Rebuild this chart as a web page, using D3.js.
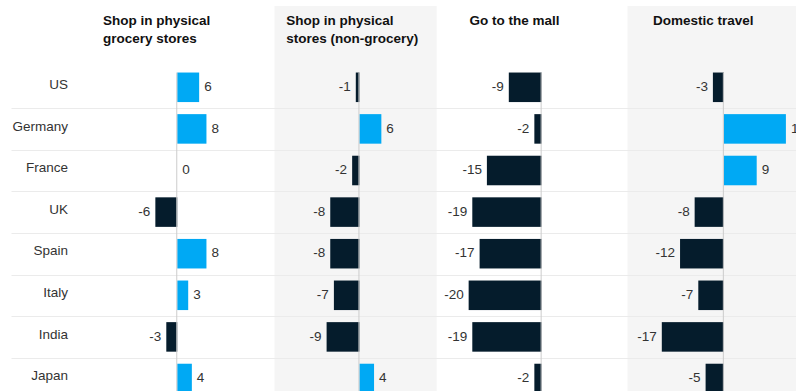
<!DOCTYPE html>
<html>
<head>
<meta charset="utf-8">
<script src="https://cdn.jsdelivr.net/npm/d3@7"></script>
<style>
  body { margin: 0; background: #fff; }
  svg { display: block; font-family: "Liberation Sans", Arial, sans-serif; }
  .title { font-weight: bold; font-size: 13.5px; fill: #111; }
  .country { font-size: 13.5px; fill: #333; }
  .value { font-size: 13.5px; fill: #333; }
</style>
</head>
<body>
<div id="chart"></div>
<script>
  const countries = ['US', 'Germany', 'France', 'UK', 'Spain', 'Italy', 'India', 'Japan'];
  const metrics = ['grocery', 'nonGrocery', 'mall', 'travel'];
  const titles = [
    ['Shop in physical', 'grocery stores'],
    ['Shop in physical', 'stores (non-grocery)'],
    ['Go to the mall'],
    ['Domestic travel']
  ];

  const grocery = [6, 8, 0, -6, 8, 3, -3, 4];
  const nonGrocery = [-1, 6, -2, -8, -8, -7, -9, 4];
  const mall = [-9, -2, -15, -19, -17, -20, -19, -2];
  const travel = [-3, 17, 9, -8, -12, -7, -17, -5];

  const series = [grocery, nonGrocery, mall, travel];

  const width = 796;
  const height = 391;

  const svg = d3.select('#chart').append('svg')
    .attr('width', width)
    .attr('height', height);

  // shaded columns (2nd and 4th)
  const shaded = [[274.5, 436.7], [627.5, 796]];
  svg.selectAll('.shade')
    .data(shaded)
    .enter()
    .append('rect')
    .attr('class', 'shade')
    .attr('x', d => d[0])
    .attr('y', 6)
    .attr('width', d => d[1] - d[0])
    .attr('height', height - 6)
    .attr('fill', '#f5f5f5');

  const panel = d3.scaleBand()
    .domain(metrics)
    .range([86, 86 + 4 * 182.2]);

  // titles sit on a slightly wider rhythm than the bars
  const titleX = d3.scaleBand()
    .domain(metrics)
    .range([103, 103 + 4 * 183.3]);

  const xScale = d3.scaleLinear()
    .domain([-25, 25])
    .range([0, 182.5]);

  const yScale = d3.scaleBand()
    .domain(countries)
    .range([66.5, 399.3])
    .paddingInner(0.29)
    .paddingOuter(0.145);

  const gap = (yScale.step() - yScale.bandwidth()) / 2;

  // row separators
  svg.selectAll('.sep')
    .data(countries.slice(1))
    .enter()
    .append('line')
    .attr('class', 'sep')
    .attr('x1', 11.5)
    .attr('x2', width)
    .attr('y1', d => Math.round(yScale(d) - gap) + 0.5)
    .attr('y2', d => Math.round(yScale(d) - gap) + 0.5)
    .attr('stroke', '#ebebeb')
    .attr('stroke-width', 1);

  // country labels
  svg.selectAll('.country')
    .data(countries)
    .enter()
    .append('text')
    .attr('class', 'country')
    .attr('x', 68)
    .attr('y', d => yScale(d) + yScale.bandwidth() / 2 - 3)
    .attr('dy', '0.35em')
    .attr('text-anchor', 'end')
    .text(d => d);

  metrics.forEach((m, i) => {
    const t = svg.append('text')
      .attr('class', 'title')
      .attr('x', titleX(m))
      .attr('y', 25);
    titles[i].forEach((line, j) => {
      t.append('tspan')
        .attr('x', titleX(m))
        .attr('dy', j === 0 ? 0 : 18)
        .text(line);
    });

    const g = svg.append('g')
      .attr('transform', `translate(${panel(m)}, 0)`);

    const rows = series[i].map((v, k) => ({ country: countries[k], value: v }));

    g.selectAll('.bar')
      .data(rows)
      .enter()
      .append('rect')
      .attr('class', 'bar')
      .attr('x', d => xScale(Math.min(0, d.value)))
      .attr('y', d => yScale(d.country))
      .attr('width', d => Math.abs(xScale(d.value) - xScale(0)))
      .attr('height', yScale.bandwidth())
      .attr('fill', d => d.value > 0 ? '#00a9f4' : '#051c2c');

    // zero line
    g.append('line')
      .attr('x1', xScale(0) - 0.5)
      .attr('x2', xScale(0) - 0.5)
      .attr('y1', yScale(countries[0]))
      .attr('y2', height)
      .attr('stroke', '#cccccc')
      .attr('stroke-width', 1);

    g.selectAll('.value')
      .data(rows)
      .enter()
      .append('text')
      .attr('class', 'value')
      .attr('x', d => d.value >= 0 ? xScale(d.value) + 5 : xScale(d.value) - 5)
      .attr('y', d => yScale(d.country) + yScale.bandwidth() / 2 - 1)
      .attr('dy', '0.35em')
      .attr('text-anchor', d => d.value >= 0 ? 'start' : 'end')
      .text(d => d.value);
  });
</script>
</body>
</html>
